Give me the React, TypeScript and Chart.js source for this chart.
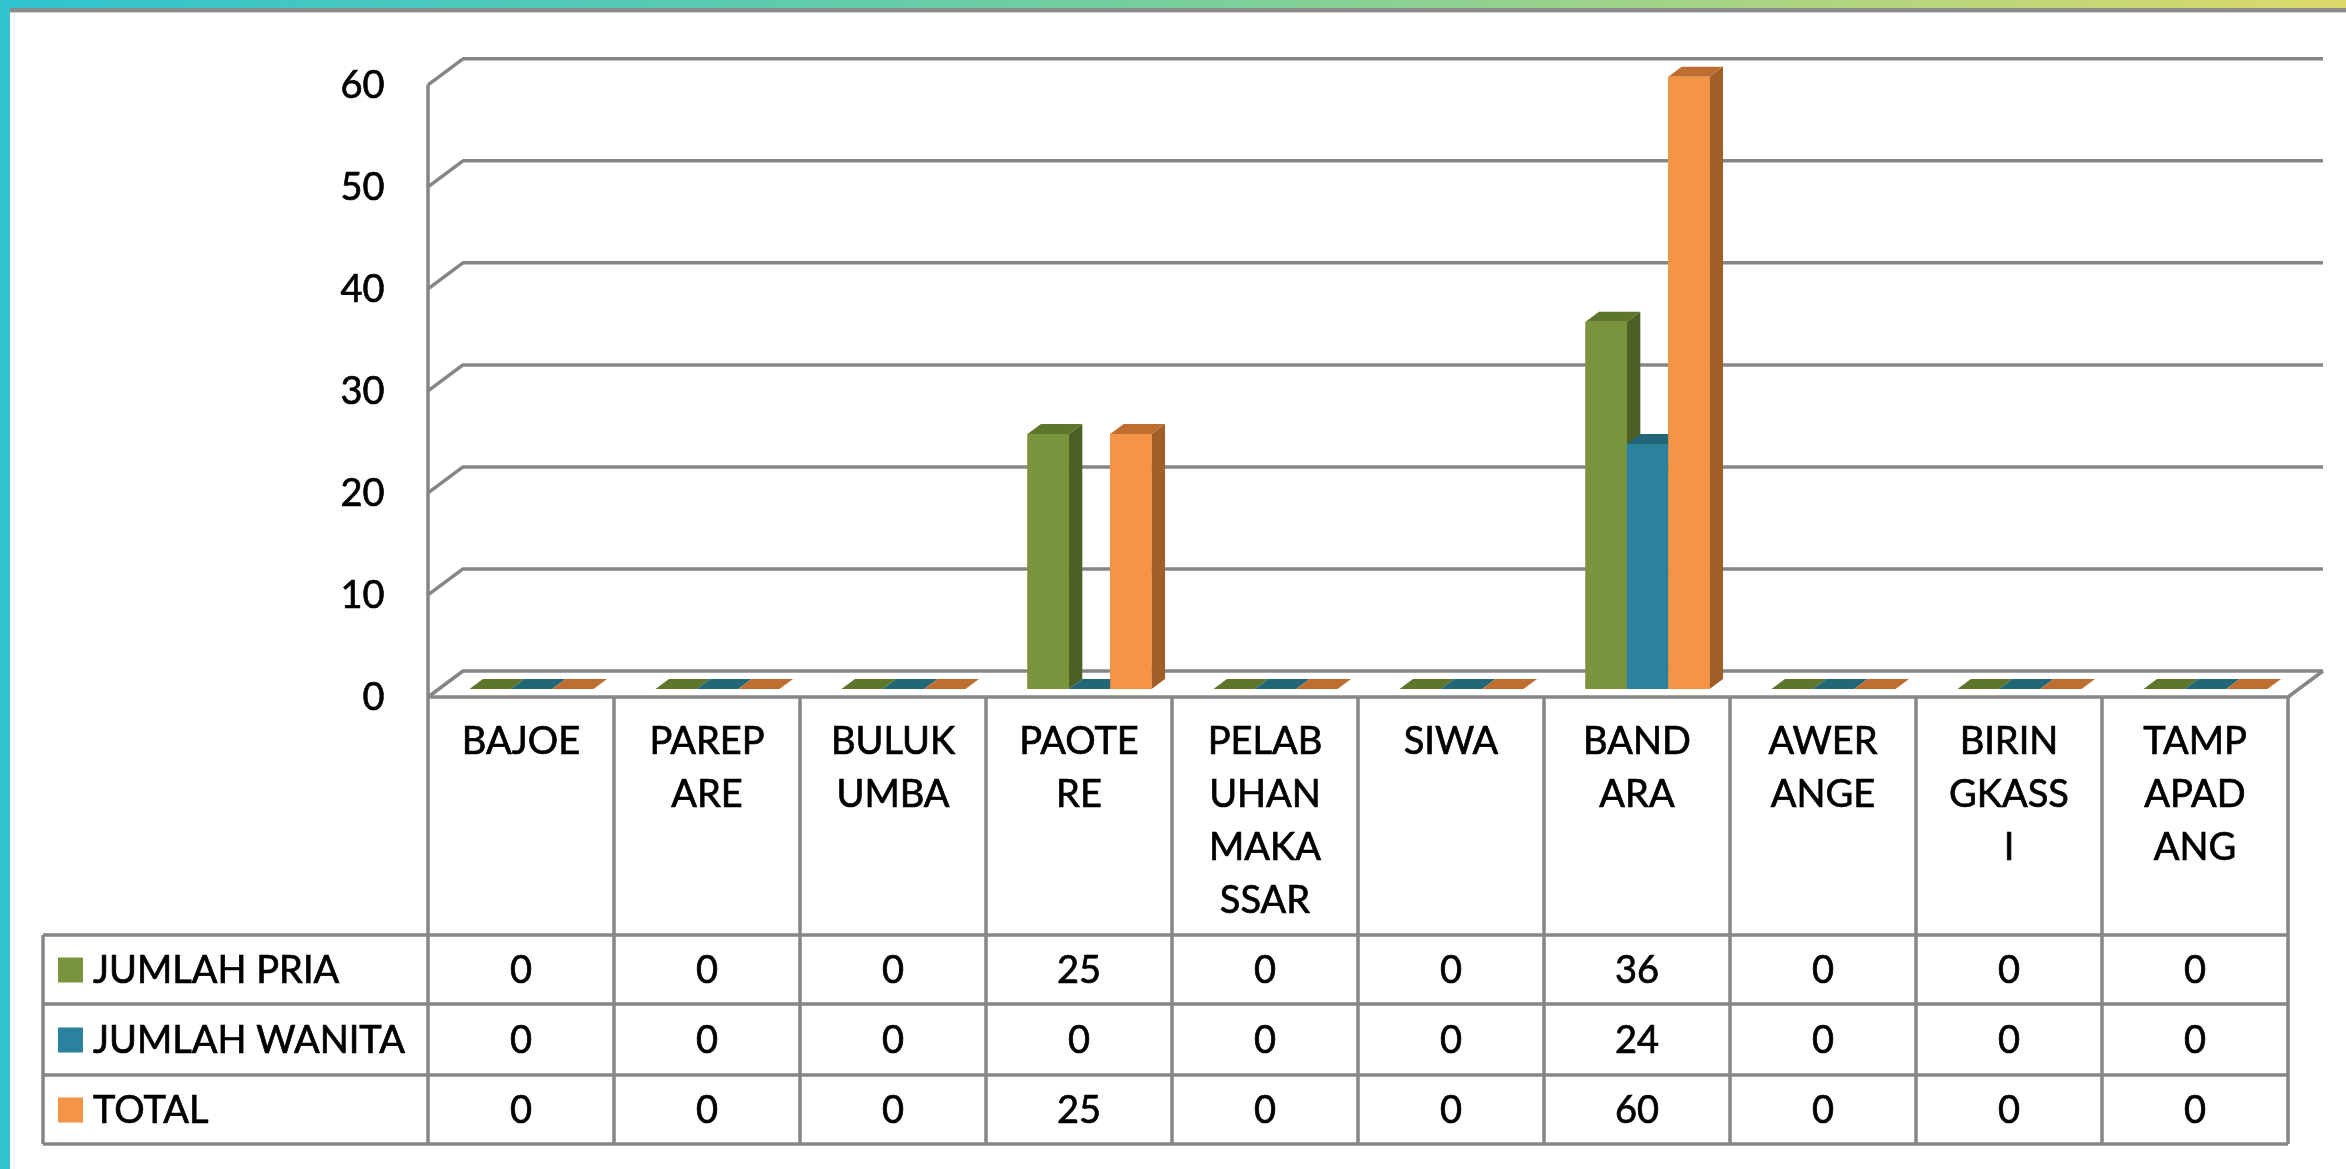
import React, { useEffect, useRef } from "react";
import { Chart, registerables } from "chart.js";

Chart.register(...registerables);

// ---- data ----
const categories: string[][] = [
  ["BAJOE"],
  ["PAREP", "ARE"],
  ["BULUK", "UMBA"],
  ["PAOTE", "RE"],
  ["PELAB", "UHAN", "MAKA", "SSAR"],
  ["SIWA"],
  ["BAND", "ARA"],
  ["AWER", "ANGE"],
  ["BIRIN", "GKASS", "I"],
  ["TAMP", "APAD", "ANG"],
];
const seriesNames = ["JUMLAH PRIA", "JUMLAH WANITA", "TOTAL"];
const jumlahPria = [0, 0, 0, 25, 0, 0, 36, 0, 0, 0];
const jumlahWanita = [0, 0, 0, 0, 0, 0, 24, 0, 0, 0];
const total = [0, 0, 0, 25, 0, 0, 60, 0, 0, 0];
const yMin = 0;
const yMax = 60;
const yStep = 10;

// ---- styles ----
const FRONT = ["#7a943d", "#2b829c", "#f59446"];
const SIDE = ["#4e6124", "#1f5e70", "#a25e27"];
const TOP = ["#5d762c", "#226778", "#c06e2f"];
const LINE = "#868686";
const FONT = "Lato, 'Open Sans', sans-serif";
const FS = 38;
const STROKE = 0.7;

const W = 2346;
const H = 1169;
// bar plane -> front plane offsets
const F_DX = -10.5;
const F_DY = 8;
// bar plane -> back plane offsets
const B_DX = 24.5;
const B_DY = -18;
// bar depth
const D_DX = 13.5;
const D_DY = 10;

const HEADER_BOTTOM = 935;
const ROW_BOTTOMS = [1004, 1075, 1144];
const TABLE_LEFT = 43;

const seriesData = [jumlahPria, jumlahWanita, total];

function poly(ctx: CanvasRenderingContext2D, pts: number[][], color: string) {
  ctx.beginPath();
  ctx.moveTo(pts[0][0], pts[0][1]);
  for (let i = 1; i < pts.length; i++) ctx.lineTo(pts[i][0], pts[i][1]);
  ctx.closePath();
  ctx.fillStyle = color;
  ctx.fill();
}

function txt(ctx: CanvasRenderingContext2D, s: string, x: number, y: number) {
  ctx.fillText(s, x, y);
  ctx.strokeText(s, x, y);
}

const chart3d = {
  id: "chart3d",
  beforeDraw(chart: any) {
    const ctx: CanvasRenderingContext2D = chart.ctx;
    ctx.save();
    ctx.fillStyle = "#ffffff";
    ctx.fillRect(0, 0, W, H);
    // top gradient bar
    const g = ctx.createLinearGradient(0, 0, W, 0);
    g.addColorStop(0, "#2fc4d0");
    g.addColorStop(0.5, "#77cf9c");
    g.addColorStop(1, "#dcd96a");
    ctx.fillStyle = g;
    ctx.fillRect(0, 0, W, 8);
    ctx.fillStyle = "#8c8c8c";
    ctx.fillRect(10, 8, W - 10, 4);
    ctx.fillStyle = "#d0d0d0";
    ctx.fillRect(10, 12, W - 10, 1);
    // left cyan bar
    ctx.fillStyle = "#31c4cf";
    ctx.fillRect(0, 0, 10, H);
    ctx.restore();
  },
  beforeDatasetsDraw(chart: any) {
    const ctx: CanvasRenderingContext2D = chart.ctx;
    const ys = chart.scales.y;
    const area = chart.chartArea;
    const fl = area.left + F_DX;
    const fr = area.right + F_DX;
    const bl = area.left + B_DX;
    const br = area.right + B_DX;
    ctx.save();
    ctx.strokeStyle = LINE;
    ctx.lineWidth = 3.5;
    ctx.lineJoin = "round";
    for (let v = yMin; v <= yMax; v += yStep) {
      const p = ys.getPixelForValue(v);
      ctx.beginPath();
      ctx.moveTo(fl, p + F_DY);
      ctx.lineTo(bl, p + B_DY);
      ctx.lineTo(br, p + B_DY);
      ctx.stroke();
    }
    // left front edge
    ctx.beginPath();
    ctx.moveTo(fl, ys.getPixelForValue(yMax) + F_DY);
    ctx.lineTo(fl, ys.getPixelForValue(0) + F_DY);
    ctx.stroke();
    // floor front edge + right diagonal
    const p0 = ys.getPixelForValue(0);
    ctx.beginPath();
    ctx.moveTo(fl, p0 + F_DY);
    ctx.lineTo(fr, p0 + F_DY);
    ctx.lineTo(br, p0 + B_DY);
    ctx.stroke();
    ctx.restore();
  },
  afterDatasetsDraw(chart: any) {
    const ctx: CanvasRenderingContext2D = chart.ctx;
    const metas = [0, 1, 2].map((i) => chart.getDatasetMeta(i));
    const n = categories.length;
    ctx.save();
    for (let c = 0; c < n; c++) {
      for (let d = 0; d < metas.length; d++) {
        const el = metas[d].data[c];
        if (!el) continue;
        const { x, y, base, width } = el.getProps(["x", "y", "base", "width"], true);
        const l = x - width / 2;
        const r = x + width / 2;
        const t = Math.min(y, base);
        const b = Math.max(y, base);
        // side face
        poly(ctx, [[r, t], [r + D_DX, t - D_DY], [r + D_DX, b - D_DY], [r, b]], SIDE[d]);
        // top face
        poly(ctx, [[l, t], [l + D_DX, t - D_DY], [r + D_DX, t - D_DY], [r, t]], TOP[d]);
        // front face
        if (b - t > 0.5) {
          ctx.fillStyle = FRONT[d];
          ctx.fillRect(l, t, r - l, b - t);
        }
      }
    }
    ctx.restore();
  },
  afterDraw(chart: any) {
    const ctx: CanvasRenderingContext2D = chart.ctx;
    const xs = chart.scales.x;
    const ys = chart.scales.y;
    const area = chart.chartArea;
    const n = categories.length;
    const colW = area.width / n;
    const top = ys.getPixelForValue(0) + F_DY;
    const right = area.right + F_DX;
    ctx.save();
    ctx.strokeStyle = LINE;
    ctx.lineWidth = 3.5;
    // vertical column lines
    for (let i = 0; i <= n; i++) {
      const x = xs.getPixelForValue(Math.min(i, n - 1)) + F_DX + (i === n ? colW / 2 : -colW / 2);
      ctx.beginPath();
      ctx.moveTo(x, top);
      ctx.lineTo(x, ROW_BOTTOMS[ROW_BOTTOMS.length - 1]);
      ctx.stroke();
    }
    // horizontal lines
    [HEADER_BOTTOM, ...ROW_BOTTOMS].forEach((yy) => {
      ctx.beginPath();
      ctx.moveTo(TABLE_LEFT, yy);
      ctx.lineTo(right, yy);
      ctx.stroke();
    });
    ctx.beginPath();
    ctx.moveTo(TABLE_LEFT, HEADER_BOTTOM);
    ctx.lineTo(TABLE_LEFT, ROW_BOTTOMS[ROW_BOTTOMS.length - 1]);
    ctx.stroke();

    ctx.fillStyle = "#000";
    ctx.strokeStyle = "#000";
    ctx.lineWidth = STROKE;
    ctx.font = `${FS}px ${FONT}`;
    ctx.textBaseline = "middle";
    // header labels
    ctx.textAlign = "center";
    for (let i = 0; i < n; i++) {
      const cx = xs.getPixelForValue(i) + F_DX;
      categories[i].forEach((line, k) => {
        txt(ctx, line, cx, 742 + k * 53);
      });
    }
    // rows
    const rowTops = [HEADER_BOTTOM, ...ROW_BOTTOMS];
    for (let r = 0; r < seriesData.length; r++) {
      const cy = (rowTops[r] + rowTops[r + 1]) / 2 + 1;
      ctx.textAlign = "center";
      for (let i = 0; i < n; i++) {
        const cx = xs.getPixelForValue(i) + F_DX;
        txt(ctx, String(seriesData[r][i]), cx, cy);
      }
      ctx.fillStyle = FRONT[r];
      ctx.fillRect(58, cy - 13, 25, 25);
      ctx.fillStyle = "#000";
      ctx.textAlign = "left";
      txt(ctx, seriesNames[r], 93, cy);
    }
    ctx.restore();
  },
};

export default function App() {
  const ref = useRef<HTMLCanvasElement | null>(null);
  useEffect(() => {
    document.body.style.margin = "0";
    let chart: Chart | null = null;
    let cancelled = false;
    const make = () => {
      if (cancelled || !ref.current) return;
      chart = new Chart(ref.current, {
        type: "bar",
        data: {
          labels: categories as any,
          datasets: seriesNames.map((name, i) => ({
            label: name,
            data: seriesData[i],
            backgroundColor: FRONT[i],
            borderWidth: 0,
            categoryPercentage: 0.667,
            barPercentage: 1.0,
          })),
        },
        options: {
          responsive: false,
          animation: false,
          devicePixelRatio: 1,
          layout: { padding: { left: 0, top: 70, right: W - 2298.5, bottom: H - 689 } },
          plugins: { legend: { display: false }, tooltip: { enabled: false } },
          scales: {
            x: { display: false, offset: true },
            y: {
              min: yMin,
              max: yMax,
              ticks: {
                stepSize: yStep,
                color: "#000",
                font: { family: FONT, size: FS },
                padding: 54,
                labelOffset: 9,
                textStrokeColor: "#000",
                textStrokeWidth: STROKE,
              },
              grid: { display: false, drawTicks: false },
              border: { display: false },
              afterFit: (s: any) => {
                s.width = 438.5;
              },
            },
          },
        },
        plugins: [chart3d as any],
      });
    };
    const fonts: any = (document as any).fonts;
    if (fonts && fonts.load) {
      fonts.load(`${FS}px Lato`).then(make, make);
    } else make();
    return () => {
      cancelled = true;
      if (chart) chart.destroy();
    };
  }, []);
  return (
    <div style={{ position: "absolute", left: 0, top: 0, width: W, height: H, overflow: "hidden" }}>
      <canvas ref={ref} width={W} height={H} style={{ display: "block" }} />
    </div>
  );
}
